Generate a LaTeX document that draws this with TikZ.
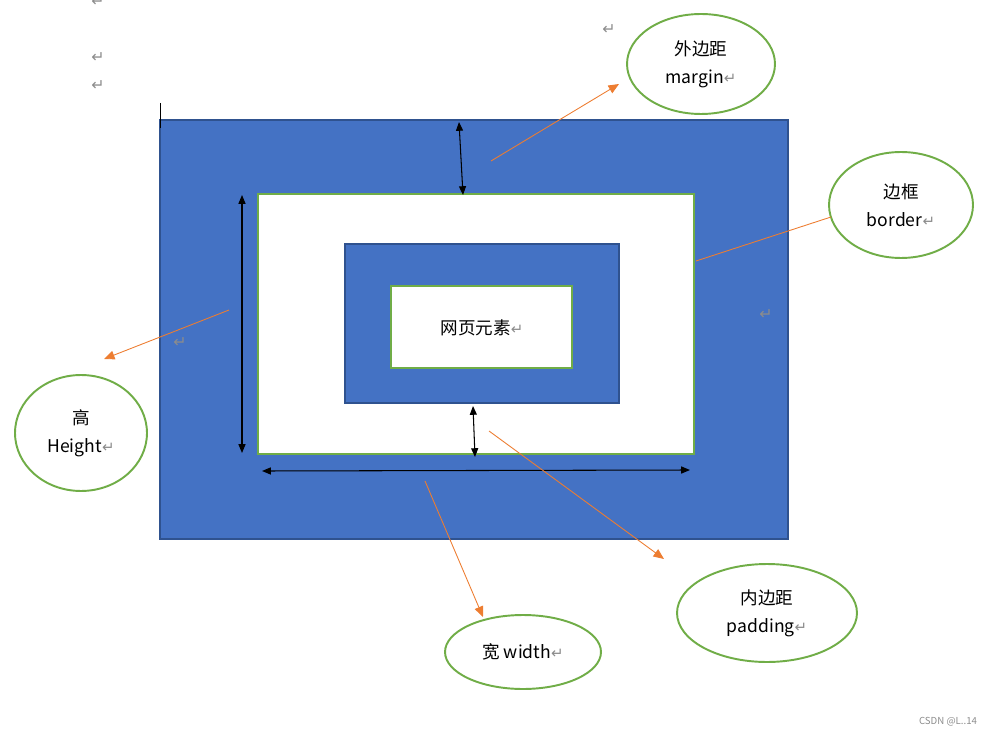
\documentclass[tikz,border=0pt]{standalone}
\usepackage{fontspec}
\setmainfont{Noto Sans CJK SC}
\newfontfamily\symfont{DejaVu Sans}
\usetikzlibrary{shapes.geometric, arrows.meta}
\definecolor{boxblue}{HTML}{4472C4}
\definecolor{edgeblue}{HTML}{2F528F}
\definecolor{leafgreen}{HTML}{70AD47}
\definecolor{linkorange}{HTML}{ED7D31}
\definecolor{markgray}{HTML}{8C8C8C}
\newcommand{\rmark}{{\color{markgray}\symfont\fontsize{8.5}{8}\selectfont\char"21B5}}
\tikzstyle{bubble}=[shape=ellipse, draw=leafgreen, line width=1.1pt, fill=white, inner sep=0, align=center, font=\fontsize{10}{16}\selectfont]
\tikzstyle{ret}=[inner sep=0, text=markgray, font=\symfont\fontsize{9}{9}\selectfont]
\tikzstyle{bluebox}=[fill=boxblue, draw=edgeblue, line width=0.8pt]
\tikzstyle{whitebox}=[fill=white, draw=leafgreen, line width=1.1pt]
\tikzstyle{measure}=[black, line width=0.6pt, {Triangle[length=5pt,width=4pt]}-{Triangle[length=5pt,width=4pt]}]
\tikzstyle{pointer}=[linkorange, line width=0.5pt, -{Triangle[length=6pt,width=5pt]}]

\begin{document}
\begin{tikzpicture}[x=0.02cm, y=-0.02cm]
\useasboundingbox (0,0) rectangle (996,736);
% nested boxes
\draw[bluebox] (160,120) rectangle (788,539);
\draw[whitebox] (258,194) rectangle (694,454);
\draw[bluebox] (345,244) rectangle (619,403);
\draw[whitebox] (391,286) rectangle (572,368);
\draw (482,328) node[font=\fontsize{10}{12}\selectfont](elem) {网页元素\rmark};
\draw[black, line width=0.5pt] (160,103)--(160,128);
% bubbles
\draw (701,64) node[bubble, minimum width=2.96cm, minimum height=2cm](margin) {\rule{0pt}{6pt}外边距\\margin\rmark};
\draw (901,205) node[bubble, minimum width=2.88cm, minimum height=2.12cm](border) {\rule{0pt}{6pt}边框\\border\rmark};
\draw (81,433) node[bubble, minimum width=2.64cm, minimum height=2.32cm](height) {\rule{0pt}{6pt}高\\Height\rmark};
\draw (523,652) node[bubble, minimum width=3.12cm, minimum height=1.48cm](width) {宽 width\rmark};
\draw (767,613) node[bubble, minimum width=3.6cm, minimum height=1.96cm](padding) {\rule{0pt}{6pt}内边距\\padding\rmark};
% measuring arrows
\coordinate (m1) at (459,122); \coordinate (m2) at (463,195);
\coordinate (h1) at (242,195); \coordinate (h2) at (242,453);
\coordinate (w1) at (262,471); \coordinate (w2) at (690,470);
\coordinate (p1) at (473,406); \coordinate (p2) at (475,457);
\draw[measure] (m1)--(m2);
\draw[measure] (h1)--(h2);
\draw[measure] (w1)--(w2);
\draw[measure] (p1)--(p2);
% orange pointers
\coordinate (a1) at (491,161); \coordinate (a2) at (619,84);
\coordinate (b1) at (696,261); \coordinate (b2) at (831,217);
\coordinate (c1) at (229,310); \coordinate (c2) at (104,359);
\coordinate (d1) at (425,481); \coordinate (d2) at (483,617);
\coordinate (e1) at (489,431); \coordinate (e2) at (664,559);
\draw[pointer] (a1)--(a2);
\draw[linkorange, line width=0.5pt] (b1)--(b2);
\draw[pointer] (c1)--(c2);
\draw[pointer] (d1)--(d2);
\draw[pointer] (e1)--(e2);
% paragraph marks
\foreach \x/\y in {98/2, 98/58, 98/86, 609/30, 180/343, 766/315}
	\draw (\x,\y) node[ret] {\char"21B5};
\draw (948,722) node[text=markgray, font=\fontsize{5.5}{6}\selectfont](mark) {CSDN @L..14};
\end{tikzpicture}
\end{document}
